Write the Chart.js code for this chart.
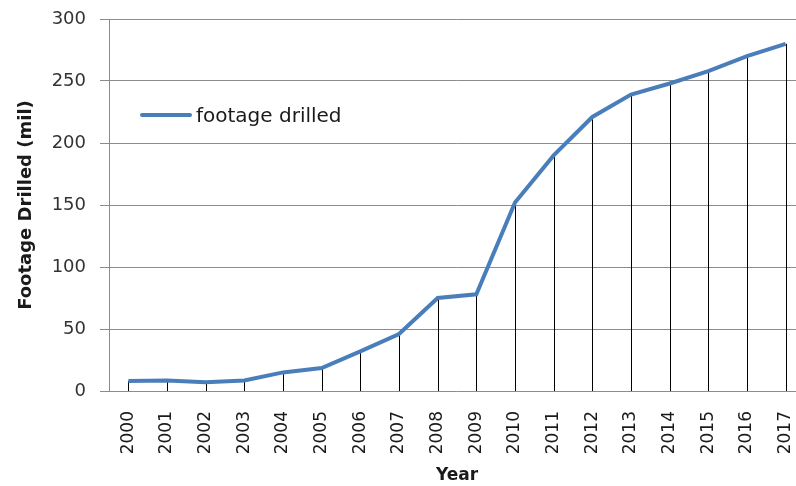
<!DOCTYPE html>
<html>
<head>
<meta charset="utf-8">
<script src="https://cdn.jsdelivr.net/npm/chart.js@4/dist/chart.umd.min.js"></script>
<style>
  html, body { margin: 0; padding: 0; background: #fff; overflow: hidden; }
  .wrap { position: relative; width: 796px; height: 486px; overflow: hidden; }
  canvas { position: absolute; left: 0; top: 0; }
  .legend {
    position: absolute; left: 140px; top: 103px;
    font-family: "DejaVu Sans", Verdana, sans-serif; font-size: 20px; color: #1a1a1a;
    display: flex; align-items: center;
  }
  .legend .swatch { width: 52px; height: 4px; background: #4a7ebb; margin-right: 4px; border-radius: 2px; }
</style>
</head>
<body>
<div class="wrap">
  <canvas id="chart" width="820" height="486"></canvas>
  <div class="legend"><span class="swatch"></span><span>footage drilled</span></div>
</div>
<script>
// Years on the x axis and footage drilled (mil)
const years = ['2000', '2001', '2002', '2003', '2004', '2005', '2006', '2007', '2008',
  '2009', '2010', '2011', '2012', '2013', '2014', '2015', '2016', '2017'];
const footage = [8, 8.5, 7, 8.5, 15, 18.5, 32, 46, 75, 78, 152, 190, 221, 239, 248, 258, 270, 280];
const yTicks = [0, 50, 100, 150, 200, 250, 300];

const font = "'DejaVu Sans', Verdana, sans-serif";

// Thin black drop lines from each point down to the zero line
const dropLines = {
  id: 'dropLines',
  beforeDatasetsDraw(chart) {
    const ctx = chart.ctx;
    const meta = chart.getDatasetMeta(0);
    const base = chart.scales.y.getPixelForValue(0);
    ctx.save();
    ctx.strokeStyle = '#000';
    ctx.lineWidth = 1;
    meta.data.forEach(pt => {
      const x = Math.round(pt.x) + 0.5;
      ctx.beginPath();
      ctx.moveTo(x, pt.y);
      ctx.lineTo(x, base);
      ctx.stroke();
    });
    ctx.restore();
  }
};

new Chart(document.getElementById('chart'), {
  type: 'line',
  data: {
    labels: years,
    datasets: [{
      label: 'footage drilled',
      data: footage,
      borderColor: '#4a7ebb',
      borderWidth: 4,
      pointRadius: 0,
      tension: 0
    }]
  },
  options: {
    responsive: false,
    animation: false,
    layout: { padding: { top: 19, right: 15, left: 16, bottom: 0 } },
    plugins: { legend: { display: false }, tooltip: { enabled: false } },
    scales: {
      x: {
        offset: true,
        grid: { display: false },
        border: { display: false },
        ticks: {
          autoSkip: false, maxRotation: 90, minRotation: 90,
          padding: 12, color: '#1a1a1a',
          font: { family: font, size: 17 }
        },
        title: {
          display: true, text: 'Year', color: '#1a1a1a', padding: { top: 2, bottom: 0 },
          font: { family: font, size: 17, weight: 'bold' }
        },
        afterFit: scale => { scale.height = 95; }
      },
      y: {
        min: 0, max: 300,
        afterBuildTicks: scale => { scale.ticks = yTicks.map(v => ({ value: v })); },
        grid: { color: '#8c8c8c', lineWidth: 1, tickLength: 9, tickColor: '#8c8c8c' },
        border: { display: true, color: '#8c8c8c' },
        ticks: {
          padding: 14, color: '#333',
          font: { family: font, size: 18 }
        },
        title: {
          display: true, text: 'Footage Drilled (mil)', color: '#1a1a1a', padding: 0,
          font: { family: font, size: 18, weight: 'bold' }
        },
        afterFit: scale => {
          scale.width = 93;
          scale.paddingTop = 0;
          scale.paddingBottom = 0;
        }
      }
    }
  },
  plugins: [dropLines]
});
</script>
</body>
</html>
